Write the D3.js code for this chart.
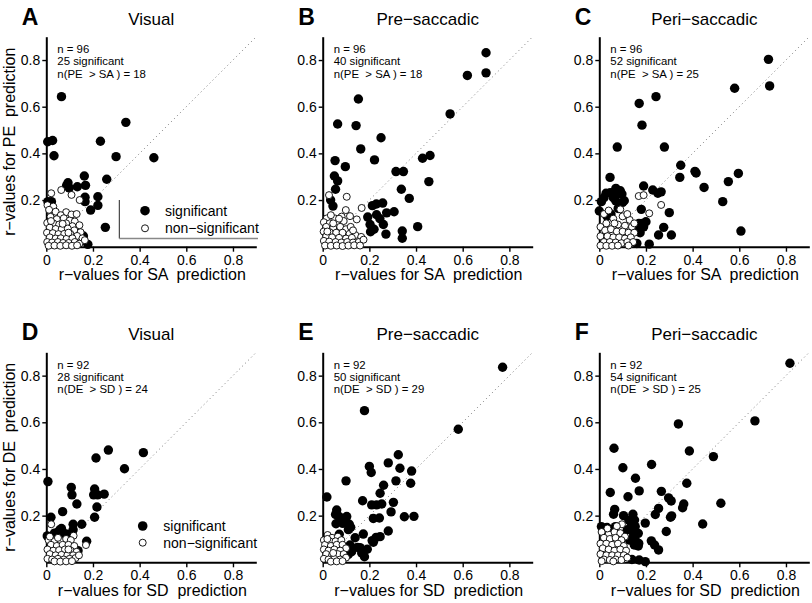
<!DOCTYPE html>
<html><head><meta charset="utf-8">
<script src="https://cdn.jsdelivr.net/npm/d3@7"></script>
<style>body{margin:0;background:#fff}svg{display:block}text{font-family:"Liberation Sans",Arial,sans-serif}</style>
</head><body>
<svg id="c" width="812" height="603"></svg>
<script>
const xTicks=[0,0.2,0.4,0.6,0.8];
const yTicks=[0.2,0.4,0.6,0.8];
const letters=["A","B","C","D","E","F"];
const titles=["Visual","Pre\u2212saccadic","Peri\u2212saccadic","Visual","Pre\u2212saccadic","Peri\u2212saccadic"];
const xTitles=["r\u2212values for SA  prediction","r\u2212values for SD  prediction"];
const yTitles=["r\u2212values for PE  prediction","r\u2212values for DE  prediction"];
const notes=[
 ["n = 96","25 significant","n(PE  > SA ) = 18"],
 ["n = 96","40 significant","n(PE  > SA ) = 18"],
 ["n = 96","52 significant","n(PE  > SA ) = 25"],
 ["n = 92","28 significant","n(DE  > SD ) = 24"],
 ["n = 92","50 significant","n(DE  > SD ) = 29"],
 ["n = 92","54 significant","n(DE  > SD ) = 25"]];
const legendLabels=["significant","non\u2212significant"];

const sigA=[[0.065,0.643],[0.006,0.45],[0.027,0.455],[0.033,0.39],[0.341,0.533],[0.232,0.452],[0.299,0.386],[0.461,0.381],[0.163,0.303],[0.259,0.289],[0.093,0.274],[0.098,0.252],[0.133,0.257],[0.168,0.263],[0.166,0.212],[0.221,0.214],[0.166,0.193],[0.19,0.157],[0.221,0.177],[0.007,0.193],[0.022,0.193],[0.253,0.083],[0.159,0.046],[0.178,0.01],[0.087,0.262]];
const nsA=[[0.021,0.229],[0.064,0.243],[0.108,0.222],[0.143,0.2],[0.005,0.178],[0.03,0.172],[0.012,0.158],[0.04,0.15],[0.085,0.148],[0.108,0.138],[0.13,0.14],[0.062,0.135],[0.018,0.128],[0.045,0.118],[0.075,0.122],[0.1,0.112],[0.122,0.108],[0.004,0.102],[0.03,0.1],[0.055,0.095],[0.085,0.1],[0.112,0.088],[0.142,0.092],[0.015,0.082],[0.04,0.076],[0.066,0.075],[0.092,0.078],[0.12,0.07],[0.147,0.062],[0.003,0.06],[0.028,0.058],[0.052,0.054],[0.077,0.055],[0.103,0.055],[0.132,0.046],[0.015,0.04],[0.04,0.035],[0.062,0.036],[0.087,0.034],[0.112,0.036],[0.155,0.036],[0.004,0.02],[0.025,0.018],[0.05,0.02],[0.072,0.016],[0.096,0.016],[0.122,0.02],[0.142,0.013],[0.01,0.004],[0.035,0.005],[0.06,0.004],[0.085,0.006],[0.11,0.004],[0.132,0.006],[0.165,0.028],[0.07,0.098],[0.02,0.11],[0.095,0.06]];

const sigB=[[0.7,0.831],[0.62,0.734],[0.7,0.745],[0.546,0.569],[0.153,0.633],[0.064,0.526],[0.143,0.519],[0.25,0.467],[0.163,0.419],[0.222,0.372],[0.053,0.369],[0.097,0.343],[0.428,0.379],[0.46,0.391],[0.05,0.303],[0.064,0.282],[0.314,0.322],[0.346,0.322],[0.455,0.279],[0.055,0.246],[0.034,0.2],[0.044,0.174],[0.337,0.246],[0.371,0.207],[0.213,0.176],[0.23,0.183],[0.257,0.187],[0.193,0.127],[0.231,0.137],[0.274,0.145],[0.306,0.15],[0.203,0.095],[0.26,0.095],[0.22,0.075],[0.205,0.064],[0.271,0.054],[0.341,0.067],[0.341,0.036],[0.407,0.086],[0.245,0.12]];
const nsB=[[0.027,0.221],[0.103,0.214],[0.167,0.166],[0.099,0.157],[0.117,0.131],[0.146,0.117],[0.081,0.129],[0.017,0.121],[0.053,0.121],[0.035,0.135],[0.005,0.105],[0.03,0.1],[0.06,0.1],[0.09,0.11],[0.015,0.085],[0.045,0.08],[0.075,0.085],[0.1,0.075],[0.004,0.065],[0.03,0.062],[0.058,0.06],[0.085,0.06],[0.115,0.055],[0.14,0.05],[0.165,0.042],[0.015,0.045],[0.04,0.04],[0.07,0.038],[0.1,0.035],[0.125,0.038],[0.005,0.025],[0.028,0.022],[0.055,0.02],[0.08,0.018],[0.105,0.02],[0.13,0.018],[0.155,0.02],[0.175,0.03],[0.01,0.005],[0.035,0.004],[0.06,0.005],[0.085,0.003],[0.11,0.005],[0.135,0.006],[0.16,0.005],[0.045,0.1],[0.12,0.085],[0.07,0.12],[0.02,0.065],[0.13,0.07]];

const sigC=[[0.725,0.803],[0.73,0.689],[0.58,0.679],[0.243,0.643],[0.171,0.614],[0.183,0.521],[0.077,0.427],[0.279,0.427],[0.349,0.349],[0.345,0.297],[0.41,0.323],[0.415,0.316],[0.553,0.279],[0.596,0.314],[0.449,0.254],[0.529,0.193],[0.607,0.067],[0.046,0.297],[0.029,0.229],[0.047,0.231],[0.071,0.25],[0.076,0.226],[0.097,0.226],[0.107,0.197],[0.009,0.193],[0.071,0.196],[0.19,0.26],[0.229,0.243],[0.251,0.229],[0.0,0.153],[0.033,0.131],[0.18,0.16],[0.3,0.146],[0.081,0.164],[0.17,0.1],[0.185,0.1],[0.2,0.107],[0.167,0.074],[0.182,0.083],[0.276,0.083],[0.254,0.05],[0.309,0.05],[0.161,0.014],[0.214,0.011],[0.06,0.21],[0.09,0.24],[0.19,0.085],[0.175,0.06],[0.1,0.19],[0.05,0.14],[0.02,0.21],[0.265,0.235]];
const nsC=[[0.169,0.217],[0.19,0.221],[0.214,0.143],[0.265,0.179],[0.02,0.14],[0.06,0.12],[0.1,0.13],[0.13,0.115],[0.03,0.1],[0.005,0.085],[0.08,0.095],[0.11,0.09],[0.14,0.085],[0.025,0.07],[0.05,0.075],[0.075,0.065],[0.1,0.065],[0.125,0.06],[0.15,0.06],[0.005,0.045],[0.035,0.045],[0.06,0.04],[0.085,0.04],[0.11,0.035],[0.135,0.04],[0.02,0.02],[0.045,0.02],[0.07,0.018],[0.095,0.015],[0.12,0.02],[0.145,0.02],[0.005,0.005],[0.03,0.004],[0.055,0.004],[0.08,0.005],[0.125,0.005],[0.04,0.155],[0.09,0.16],[0.12,0.14],[0.065,0.1],[0.15,0.1]];

const sigD=[[0.266,0.481],[0.213,0.447],[0.416,0.47],[0.335,0.401],[0.007,0.346],[0.107,0.321],[0.11,0.289],[0.207,0.314],[0.203,0.289],[0.22,0.289],[0.248,0.292],[0.131,0.25],[0.217,0.237],[0.07,0.217],[0.207,0.193],[0.02,0.193],[0.115,0.163],[0.115,0.139],[0.152,0.163],[0.004,0.113],[0.035,0.125],[0.058,0.139],[0.075,0.125],[0.048,0.128],[0.173,0.09],[0.136,0.05],[0.09,0.12],[0.065,0.145]];
const nsD=[[0.021,0.163],[0.117,0.114],[0.17,0.074],[0.01,0.095],[0.035,0.09],[0.06,0.095],[0.085,0.1],[0.105,0.095],[0.02,0.075],[0.045,0.07],[0.07,0.075],[0.095,0.075],[0.12,0.07],[0.005,0.055],[0.03,0.05],[0.055,0.052],[0.08,0.055],[0.105,0.05],[0.13,0.045],[0.015,0.035],[0.04,0.03],[0.065,0.032],[0.09,0.03],[0.115,0.03],[0.005,0.015],[0.025,0.012],[0.05,0.015],[0.075,0.012],[0.1,0.015],[0.125,0.018],[0.035,0.004],[0.06,0.003],[0.085,0.004],[0.11,0.005],[0.05,0.105],[0.14,0.03],[0.015,0.11],[0.095,0.055]];

const sigE=[[0.771,0.836],[0.581,0.57],[0.179,0.65],[0.324,0.461],[0.281,0.426],[0.2,0.411],[0.208,0.385],[0.331,0.403],[0.381,0.391],[0.377,0.339],[0.314,0.349],[0.1,0.349],[0.261,0.33],[0.246,0.296],[0.303,0.257],[0.171,0.264],[0.21,0.246],[0.231,0.246],[0.253,0.25],[0.018,0.28],[0.293,0.216],[0.217,0.188],[0.243,0.19],[0.35,0.195],[0.391,0.197],[0.06,0.224],[0.055,0.205],[0.07,0.196],[0.103,0.196],[0.057,0.165],[0.086,0.167],[0.114,0.163],[0.12,0.15],[0.11,0.14],[0.071,0.12],[0.174,0.121],[0.139,0.105],[0.281,0.134],[0.212,0.093],[0.229,0.107],[0.246,0.11],[0.217,0.086],[0.117,0.074],[0.149,0.064],[0.16,0.063],[0.191,0.056],[0.179,0.024],[0.167,0.04],[0.11,0.034],[0.124,0.045]];
const nsE=[[0.021,0.117],[0.04,0.105],[0.065,0.11],[0.005,0.095],[0.03,0.09],[0.055,0.09],[0.08,0.095],[0.01,0.075],[0.035,0.07],[0.06,0.075],[0.085,0.075],[0.1,0.06],[0.005,0.055],[0.025,0.05],[0.05,0.055],[0.075,0.05],[0.015,0.035],[0.04,0.03],[0.065,0.035],[0.09,0.035],[0.005,0.015],[0.025,0.012],[0.05,0.015],[0.075,0.012],[0.1,0.02],[0.035,0.003],[0.06,0.004],[0.085,0.005],[0.02,0.1],[0.045,0.04]];

const sigF=[[0.817,0.853],[0.667,0.606],[0.339,0.593],[0.063,0.489],[0.386,0.477],[0.489,0.453],[0.224,0.419],[0.101,0.405],[0.155,0.36],[0.375,0.339],[0.171,0.306],[0.047,0.299],[0.266,0.304],[0.123,0.281],[0.297,0.276],[0.308,0.263],[0.362,0.25],[0.357,0.234],[0.521,0.253],[0.066,0.227],[0.254,0.231],[0.061,0.206],[0.104,0.2],[0.144,0.206],[0.151,0.181],[0.24,0.205],[0.31,0.199],[0.197,0.168],[0.443,0.164],[0.287,0.132],[0.009,0.153],[0.033,0.149],[0.069,0.153],[0.053,0.14],[0.137,0.167],[0.14,0.139],[0.154,0.153],[0.12,0.14],[0.147,0.117],[0.167,0.124],[0.154,0.096],[0.169,0.081],[0.15,0.074],[0.167,0.07],[0.223,0.092],[0.237,0.074],[0.254,0.053],[0.14,0.012],[0.171,0.01],[0.197,0.003],[0.305,0.193],[0.13,0.095],[0.025,0.135],[0.127,0.18]];
const nsF=[[0.097,0.163],[0.01,0.13],[0.04,0.12],[0.065,0.13],[0.09,0.125],[0.11,0.11],[0.02,0.105],[0.045,0.1],[0.07,0.105],[0.095,0.095],[0.005,0.08],[0.03,0.08],[0.055,0.075],[0.08,0.08],[0.105,0.07],[0.015,0.06],[0.04,0.055],[0.065,0.05],[0.09,0.055],[0.115,0.05],[0.005,0.035],[0.03,0.03],[0.055,0.03],[0.08,0.03],[0.105,0.03],[0.02,0.012],[0.045,0.01],[0.07,0.012],[0.095,0.01],[0.12,0.02],[0.035,0.145],[0.075,0.155],[0.01,0.005],[0.06,0.004]];

const sigs=[sigA,sigB,sigC,sigD,sigE,sigF];
const nss=[nsA,nsB,nsC,nsD,nsE,nsF];

const svg=d3.select("#c");
svg.append("rect").attr("width",812).attr("height",603).attr("fill","#fff");
const colX=[46.3,322.7,599.3];
const rowY=[246.7,562.3];
const L=210;
const fmt=d=>d===0?"0":d3.format(".1f")(d);

for(let i=0;i<6;i++){
  const c=i%3, r=Math.floor(i/3);
  const x0=colX[c], yb=rowY[r];
  const x=d3.scaleLinear().domain([0,0.9]).range([x0,x0+L]);
  const y=d3.scaleLinear().domain([0,0.9]).range([yb,yb-L]);
  const g=svg.append("g");

  g.append("line").attr("x1",x(0)).attr("y1",y(0)).attr("x2",x(0.9)).attr("y2",y(0.9))
    .attr("stroke","#777").attr("stroke-width",1).attr("stroke-dasharray","1,3.2");

  const ax=g.append("g").attr("transform",`translate(0,${yb})`)
    .call(d3.axisBottom(x).tickValues(xTicks).tickFormat(fmt).tickSize(5).tickSizeOuter(0).tickPadding(3));
  const ay=g.append("g").attr("transform",`translate(${x0},0)`)
    .call(d3.axisLeft(y).tickValues(yTicks).tickFormat(fmt).tickSize(4).tickSizeOuter(0).tickPadding(2));
  [ax,ay].forEach(a=>{
    a.select(".domain").attr("stroke","#000").attr("stroke-width",2);
    a.selectAll(".tick line").attr("stroke","#000").attr("stroke-width",1.4);
    a.selectAll(".tick text").attr("fill","#000").style("font-size","14px").style("font-family","Liberation Sans, Arial, sans-serif");
  });

  if(i===0){
    g.append("line").attr("x1",119.3).attr("y1",200).attr("x2",119.3).attr("y2",238.5).attr("stroke","#222").attr("stroke-width",1);
    g.append("line").attr("x1",119.3).attr("y1",238.5).attr("x2",258).attr("y2",238.5).attr("stroke","#888").attr("stroke-width",1.6);
  }

  g.append("g").selectAll("circle").data(sigs[i]).join("circle")
    .attr("cx",d=>x(d[0])).attr("cy",d=>y(d[1])).attr("r",4.7).attr("fill","#000");
  g.append("g").selectAll("circle").data(nss[i]).join("circle")
    .attr("cx",d=>x(d[0])).attr("cy",d=>y(d[1])).attr("r",3.5).attr("fill","#fff").attr("stroke","#000").attr("stroke-width",0.9);

  notes[i].forEach((t,k)=>{
    g.append("text").attr("x",x0+11).attr("y",yb-L+16.3+k*12.3).attr("xml:space","preserve")
      .style("white-space","pre").style("font-size","11.4px").text(t);
  });

  const ty = r===0?25:340;
  g.append("text").attr("x",x0+105).attr("y",ty).attr("text-anchor","middle").style("font-size","17px").text(titles[i]);
  g.append("text").attr("x",x0-24.5).attr("y",ty).style("font-size","23px").style("font-weight","bold").text(letters[i]);

  g.append("text").attr("x",x0+106).attr("y",yb+33.3).attr("text-anchor","middle").attr("xml:space","preserve")
    .style("white-space","pre").style("font-size","16px").text(xTitles[r]);
  if(c===0){
    g.append("text").attr("transform",`translate(14.5,${yb-L/2}) rotate(-90)`).attr("text-anchor","middle")
      .attr("xml:space","preserve").style("white-space","pre").style("font-size","16px").text(yTitles[r]);
    const lx = r===0?145:142.7, ly = r===0?210.7:526, ly2 = r===0?228.3:542.7, tx = r===0?165:163.3;
    g.append("circle").attr("cx",lx).attr("cy",ly).attr("r",4.8).attr("fill","#000");
    g.append("circle").attr("cx",lx).attr("cy",ly2).attr("r",3.5).attr("fill","#fff").attr("stroke","#000").attr("stroke-width",0.9);
    g.append("text").attr("x",tx).attr("y",ly+5).style("font-size","14px").text(legendLabels[0]);
    g.append("text").attr("x",tx).attr("y",ly2+5).style("font-size","14px").text(legendLabels[1]);
  }
}
</script>
</body></html>
